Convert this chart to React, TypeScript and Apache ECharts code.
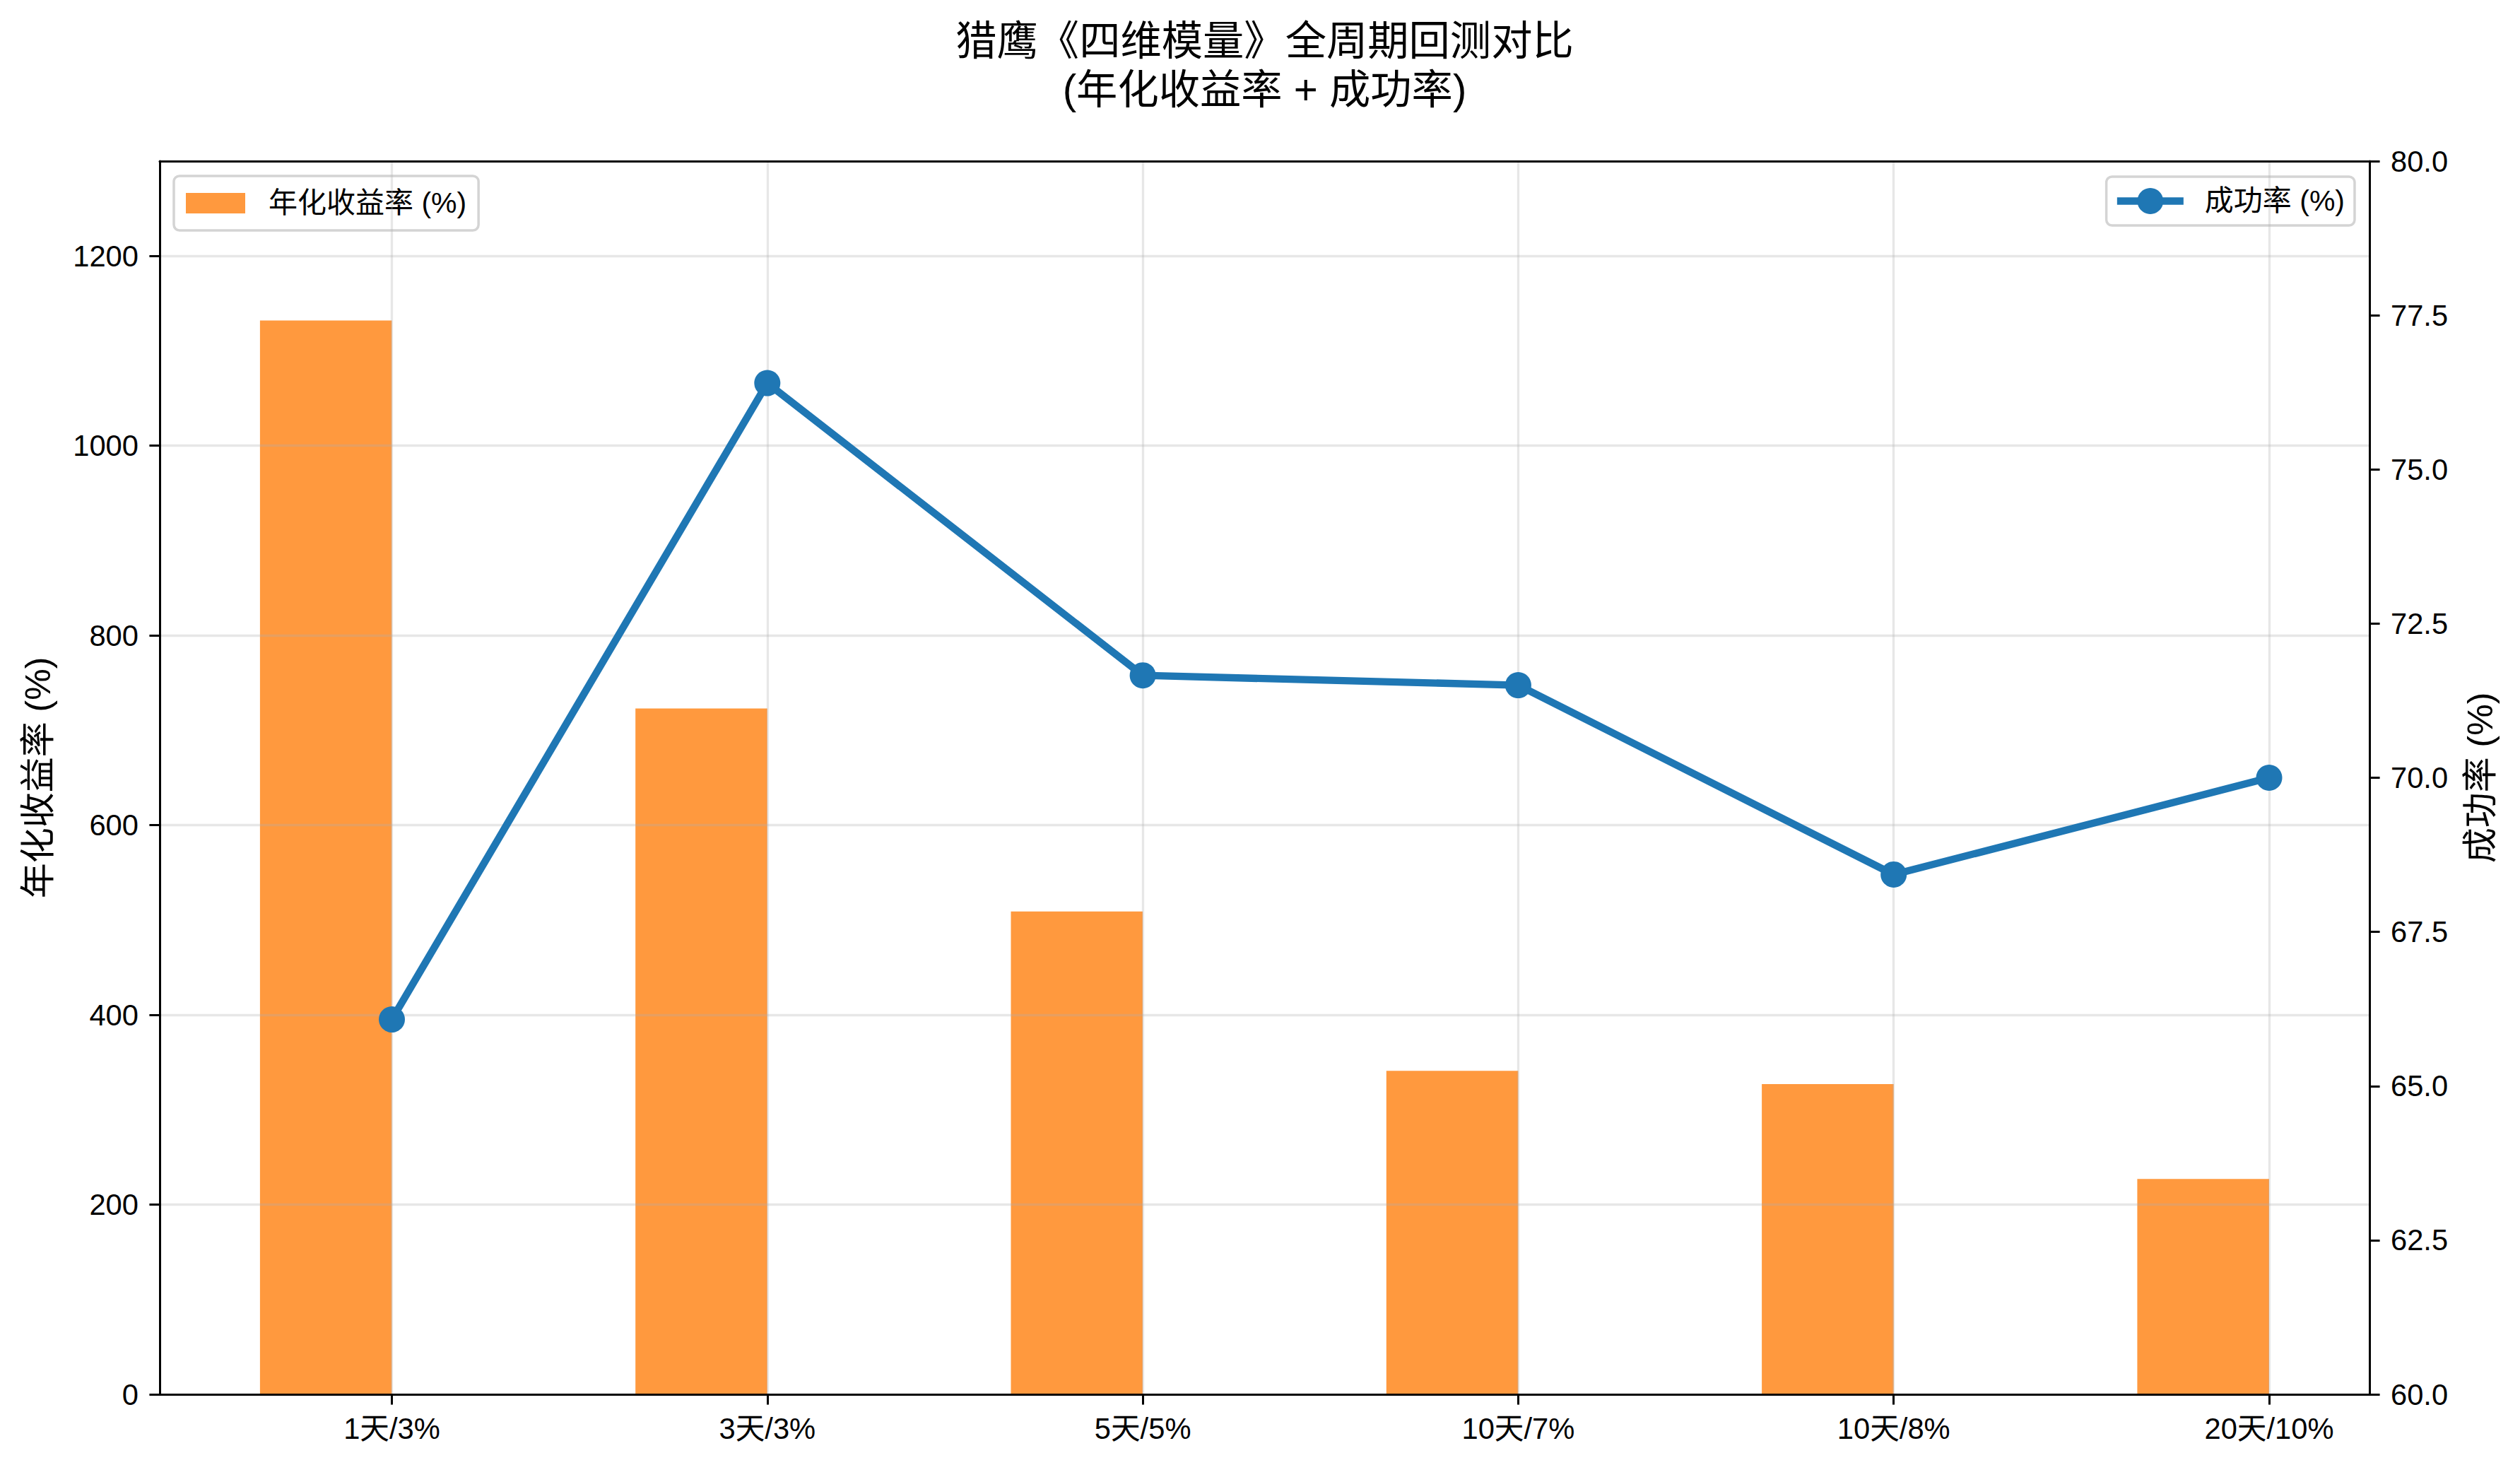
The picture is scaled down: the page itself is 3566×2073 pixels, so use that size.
import React, { useEffect, useRef } from "react";
import * as echarts from "echarts";

const categories = ["1天/3%", "3天/3%", "5天/5%", "10天/7%", "10天/8%", "20天/10%"];
const annualReturn = [1132, 723, 509, 341, 327, 227];
const successRate = [66.08, 76.4, 71.66, 71.5, 68.43, 70.0];
const leftTickMax = 1200;
const leftAxisMax = 1300;
const leftTickStep = 200;
const rightMin = 60;
const rightMax = 80;
const rightTickStep = 2.5;

const FONT = '"Liberation Sans", "Noto Sans CJK SC", sans-serif';
const BAR_COLOR = "#FF993E";
const LINE_COLOR = "#1f77b4";
const GRID_COLOR = "rgba(176,176,176,0.3)";

const PLOT_TOP = 228;
const PLOT_H = 1745;
const FRAME_L = 226;
const FRAME_W = 3127;
const CAT_L = 554.5;
const CAT_W = 2656.5;
const BAR_W = 186.6;

export default function App() {
  const ref = useRef<HTMLDivElement>(null);
  useEffect(() => {
    if (!ref.current) return;
    const chart = echarts.init(ref.current, undefined, { renderer: "svg" });
    const tickFont = { fontSize: 41.7, color: "#000", fontFamily: FONT };
    const blackLine = { color: "#000", width: 3 };
    const frameLine = { show: true, onZero: false, lineStyle: blackLine };
    // grid holding the left tick axis (0..1200) inside the 0..1300 frame
    const tickGridH = (PLOT_H * leftTickMax) / leftAxisMax;
    const tickGridTop = PLOT_TOP + PLOT_H - tickGridH;
    const option: any = {
      animation: false,
      backgroundColor: "#fff",
      textStyle: { fontFamily: FONT },
      title: {
        text: "猎鹰《四维模量》全周期回测对比\n(年化收益率 + 成功率)",
        left: 1789.5,
        textAlign: "center",
        top: 22.5,
        padding: 0,
        textStyle: { fontSize: 58.3, fontWeight: "normal", color: "#000", lineHeight: 69, fontFamily: FONT },
      },
      legend: [
        {
          data: ["年化收益率 (%)"],
          left: 246,
          top: 249,
          icon: "rect",
          itemWidth: 84,
          itemHeight: 29,
          padding: [18, 17, 18, 17],
          borderColor: "#d4d4d4",
          borderWidth: 3.5,
          borderRadius: 8,
          backgroundColor: "#fff",
          textStyle: { fontSize: 41, color: "#000", fontFamily: FONT, padding: [0, 0, 0, 28] },
        },
        {
          data: ["成功率 (%)"],
          right: 234,
          top: 250,
          itemWidth: 94,
          itemHeight: 46,
          padding: [14, 14, 14, 10],
          borderColor: "#d4d4d4",
          borderWidth: 3.5,
          borderRadius: 8,
          backgroundColor: "#fff",
          lineStyle: { width: 10.4, color: LINE_COLOR },
          textStyle: { fontSize: 41, color: "#000", fontFamily: FONT, padding: [0, 0, 0, 25] },
        },
      ],
      grid: [
        { left: FRAME_L, top: PLOT_TOP, width: FRAME_W, height: PLOT_H },
        { left: CAT_L, top: PLOT_TOP, width: CAT_W, height: PLOT_H },
        { left: CAT_L - BAR_W / 2, top: PLOT_TOP, width: CAT_W, height: PLOT_H },
        { left: FRAME_L, top: tickGridTop, width: FRAME_W, height: tickGridH },
      ],
      xAxis: [
        {
          gridIndex: 0, type: "value", min: 0, max: 1, position: "bottom", z: 6,
          axisLine: frameLine,
          axisTick: { show: false }, axisLabel: { show: false }, splitLine: { show: false },
        },
        {
          gridIndex: 0, type: "value", min: 0, max: 1, position: "top", z: 6,
          axisLine: frameLine,
          axisTick: { show: false }, axisLabel: { show: false }, splitLine: { show: false },
        },
        {
          gridIndex: 1, type: "category", data: categories, boundaryGap: false, z: 5,
          axisLine: { show: false, onZero: false },
          axisTick: { show: true, inside: false, length: 14.6, lineStyle: blackLine },
          axisLabel: { ...tickFont, margin: 28, interval: 0 },
          splitLine: { show: true, lineStyle: { color: GRID_COLOR, width: 3.3 } },
        },
        { gridIndex: 2, type: "category", data: categories, boundaryGap: false, show: false, axisLine: { onZero: false } },
        { gridIndex: 3, type: "value", min: 0, max: 1, show: false, axisLine: { onZero: false } },
      ],
      yAxis: [
        {
          gridIndex: 0, type: "value", position: "left", min: 0, max: leftAxisMax, z: 6,
          name: "年化收益率 (%)", nameLocation: "middle", nameGap: 147, nameRotate: 90,
          nameTextStyle: { fontSize: 50, color: "#000", fontFamily: FONT },
          axisLine: frameLine,
          axisTick: { show: false }, axisLabel: { show: false }, splitLine: { show: false },
        },
        {
          gridIndex: 0, type: "value", position: "right", min: rightMin, max: rightMax, interval: rightTickStep, z: 6,
          name: "成功率 (%)", nameLocation: "middle", nameGap: 132, nameRotate: 90,
          nameTextStyle: { fontSize: 50, color: "#000", fontFamily: FONT },
          axisLine: frameLine,
          axisTick: { show: true, inside: false, length: 14.6, lineStyle: blackLine },
          axisLabel: { ...tickFont, margin: 30, formatter: (v: number) => v.toFixed(1) },
          splitLine: { show: false },
        },
        { gridIndex: 1, type: "value", min: rightMin, max: rightMax, show: false, axisLine: { onZero: false } },
        { gridIndex: 2, type: "value", min: 0, max: leftAxisMax, show: false, axisLine: { onZero: false } },
        {
          gridIndex: 3, type: "value", position: "left", min: 0, max: leftTickMax, interval: leftTickStep, z: 5,
          axisLine: { show: false, onZero: false },
          axisTick: { show: true, inside: false, length: 14.6, lineStyle: blackLine },
          axisLabel: { ...tickFont, margin: 30, formatter: (v: number) => String(v) },
          splitLine: { show: true, showMinLine: false, showMaxLine: true, lineStyle: { color: GRID_COLOR, width: 3.3 } },
        },
      ],
      series: [
        {
          name: "年化收益率 (%)",
          type: "bar",
          xAxisIndex: 3,
          yAxisIndex: 3,
          data: annualReturn,
          barWidth: BAR_W,
          clip: false,
          z: 2,
          itemStyle: { color: BAR_COLOR },
        },
        {
          name: "成功率 (%)",
          type: "line",
          xAxisIndex: 2,
          yAxisIndex: 2,
          data: successRate,
          clip: false,
          z: 10,
          symbol: "circle",
          symbolSize: 37,
          lineStyle: { color: LINE_COLOR, width: 10.4 },
          itemStyle: { color: LINE_COLOR },
        },
      ],
    };
    chart.setOption(option);
    return () => chart.dispose();
  }, []);
  return (
    <div
      ref={ref}
      style={{ position: "fixed", left: 0, top: 0, width: 3566, height: 2073, background: "#fff" }}
    />
  );
}
